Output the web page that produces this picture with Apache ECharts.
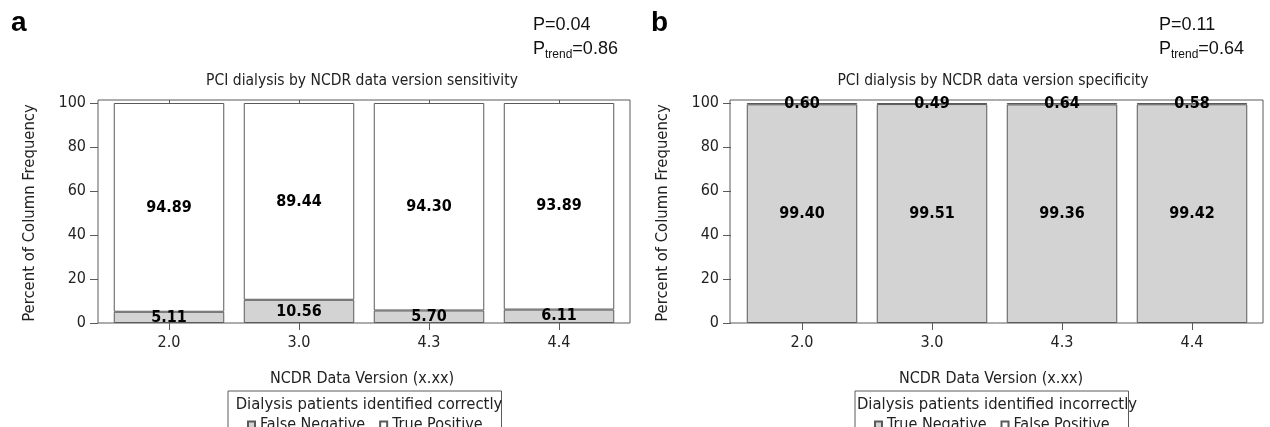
<!DOCTYPE html>
<html><head><meta charset="utf-8">
<script src="https://cdn.jsdelivr.net/npm/echarts@6/dist/echarts.min.js"></script>
<style>html,body{margin:0;padding:0;background:#fff}#c{width:1270px;height:427px}</style>
</head><body><div id="c"></div>
<script>
const categories = ['2.0', '3.0', '4.3', '4.4'];
const sensFalseNegative = [5.11, 10.56, 5.70, 6.11];
const sensTruePositive = [94.89, 89.44, 94.30, 93.89];
const specTrueNegative = [99.40, 99.51, 99.36, 99.42];
const specFalsePositive = [0.60, 0.49, 0.64, 0.58];
const yMin = 0, yMax = 100, yStep = 20;

const FONT = 'DejaVu Sans Condensed';
const TXT = '#222';
const EDGE = '#5a5a5a';

function innerX(gi) {
  return [{
    gridIndex: gi, type: 'category', data: categories,
    axisLine: { show: false },
    axisTick: { show: true, alignWithLabel: true, length: 7, lineStyle: { color: EDGE } },
    axisLabel: { color: TXT, fontFamily: FONT, fontSize: 16, margin: 12 }
  }, {
    gridIndex: gi, type: 'category', data: categories, position: 'top', offset: 3,
    axisLine: { show: false },
    axisTick: { show: true, inside: true, alignWithLabel: true, length: 4, lineStyle: { color: EDGE } },
    axisLabel: { show: false }
  }];
}
function innerY(gi) {
  return {
    gridIndex: gi, type: 'value', min: yMin, max: yMax, interval: yStep, offset: 6,
    name: 'Percent of Column Frequency', nameLocation: 'middle', nameGap: 60,
    nameTextStyle: { color: TXT, fontFamily: FONT, fontSize: 16.5 },
    axisLine: { show: false },
    axisTick: { show: true, length: 8, lineStyle: { color: EDGE } },
    axisLabel: { color: TXT, fontFamily: FONT, fontSize: 16, margin: 12 },
    splitLine: { show: false }
  };
}
const lab = {
  show: true, position: 'inside', color: '#000', fontFamily: FONT, fontWeight: 'bold', fontSize: 16,
  formatter: p => Number(p.value).toFixed(2)
};
function bar(name, data, xi, yi, color) {
  return {
    name, type: 'bar', stack: 's' + xi, data, xAxisIndex: xi, yAxisIndex: yi,
    barCategoryGap: '15%',
    itemStyle: { color, borderColor: EDGE, borderWidth: 1 },
    label: lab, emphasis: { disabled: true }, silent: true
  };
}
function txt(text, x, y, size, extra) {
  return Object.assign({
    text, left: x, top: y, textAlign: 'center',
    textStyle: { color: TXT, fontFamily: FONT, fontSize: size, fontWeight: 'normal' }
  }, extra || {});
}
function ptext(x, y, p, pt) {
  return {
    left: x, top: y, textAlign: 'left',
    text: '{n|P=' + p + '}\n{n|P}{s|trend}{n|=' + pt + '}',
    textStyle: {
      fontWeight: 'normal',
      rich: {
        n: { fontFamily: 'Liberation Sans', fontWeight: 'normal', fontSize: 18, color: '#111', lineHeight: 24 },
        s: { fontFamily: 'Liberation Sans', fontWeight: 'normal', fontSize: 12, color: '#111', lineHeight: 24, verticalAlign: 'bottom', padding: [8, 0, 0, 0] }
      }
    }
  };
}
function legend(data, left, side) {
  return {
    data, left, top: 391, orient: 'horizontal', icon: 'rect',
    itemWidth: 7, itemHeight: 7, itemGap: 14,
    padding: [26, side, 4, side],
    borderColor: EDGE, borderWidth: 1,
    textStyle: { color: TXT, fontFamily: FONT, fontSize: 16 },
    selectedMode: false
  };
}

const option = {
  animation: false,
  backgroundColor: '#fff',
  title: [
    { text: 'a', left: 6, top: 4, textStyle: { fontFamily: 'Liberation Sans', fontWeight: 'bold', fontSize: 28, color: '#000' } },
    { text: 'b', left: 646, top: 4, textStyle: { fontFamily: 'Liberation Sans', fontWeight: 'bold', fontSize: 28, color: '#000' } },
    ptext(528, 8, '0.04', '0.86'),
    ptext(1154, 8, '0.11', '0.64'),
    txt('PCI dialysis by NCDR data version sensitivity', 357, 68, 15.5),
    txt('PCI dialysis by NCDR data version specificity', 988, 68, 15.5),
    txt('NCDR Data Version (x.xx)', 357, 366, 16),
    txt('Dialysis patients identified correctly', 364, 391, 16.5),
    txt('NCDR Data Version (x.xx)', 986, 366, 16),
    txt('Dialysis patients identified incorrectly', 992, 391, 16.5)
  ],
  legend: [
    legend(['False Negative', 'True Positive'], 228, 19),
    legend(['True Negative', 'False Positive'], 855, 19)
  ],
  grid: [
    { left: 104, top: 103, width: 520, height: 220 },
    { left: 98, top: 100, width: 532, height: 223, show: true, borderColor: EDGE, borderWidth: 1, backgroundColor: 'transparent', z: 0 },
    { left: 737, top: 103, width: 520, height: 220 },
    { left: 730, top: 100, width: 533, height: 223, show: true, borderColor: EDGE, borderWidth: 1, backgroundColor: 'transparent', z: 0 }
  ],
  xAxis: [
    ...innerX(0),
    { gridIndex: 1, type: 'value', show: false },
    ...innerX(2),
    { gridIndex: 3, type: 'value', show: false }
  ],
  yAxis: [
    innerY(0),
    { gridIndex: 1, type: 'value', show: false },
    innerY(2),
    { gridIndex: 3, type: 'value', show: false }
  ],
  series: [
    bar('False Negative', sensFalseNegative, 0, 0, '#d3d3d3'),
    bar('True Positive', sensTruePositive, 0, 0, '#ffffff'),
    bar('True Negative', specTrueNegative, 3, 2, '#d3d3d3'),
    bar('False Positive', specFalsePositive, 3, 2, '#ffffff')
  ]
};
const chart = echarts.init(document.getElementById('c'), null, { renderer: 'canvas' });
chart.setOption(option);
</script></body></html>
